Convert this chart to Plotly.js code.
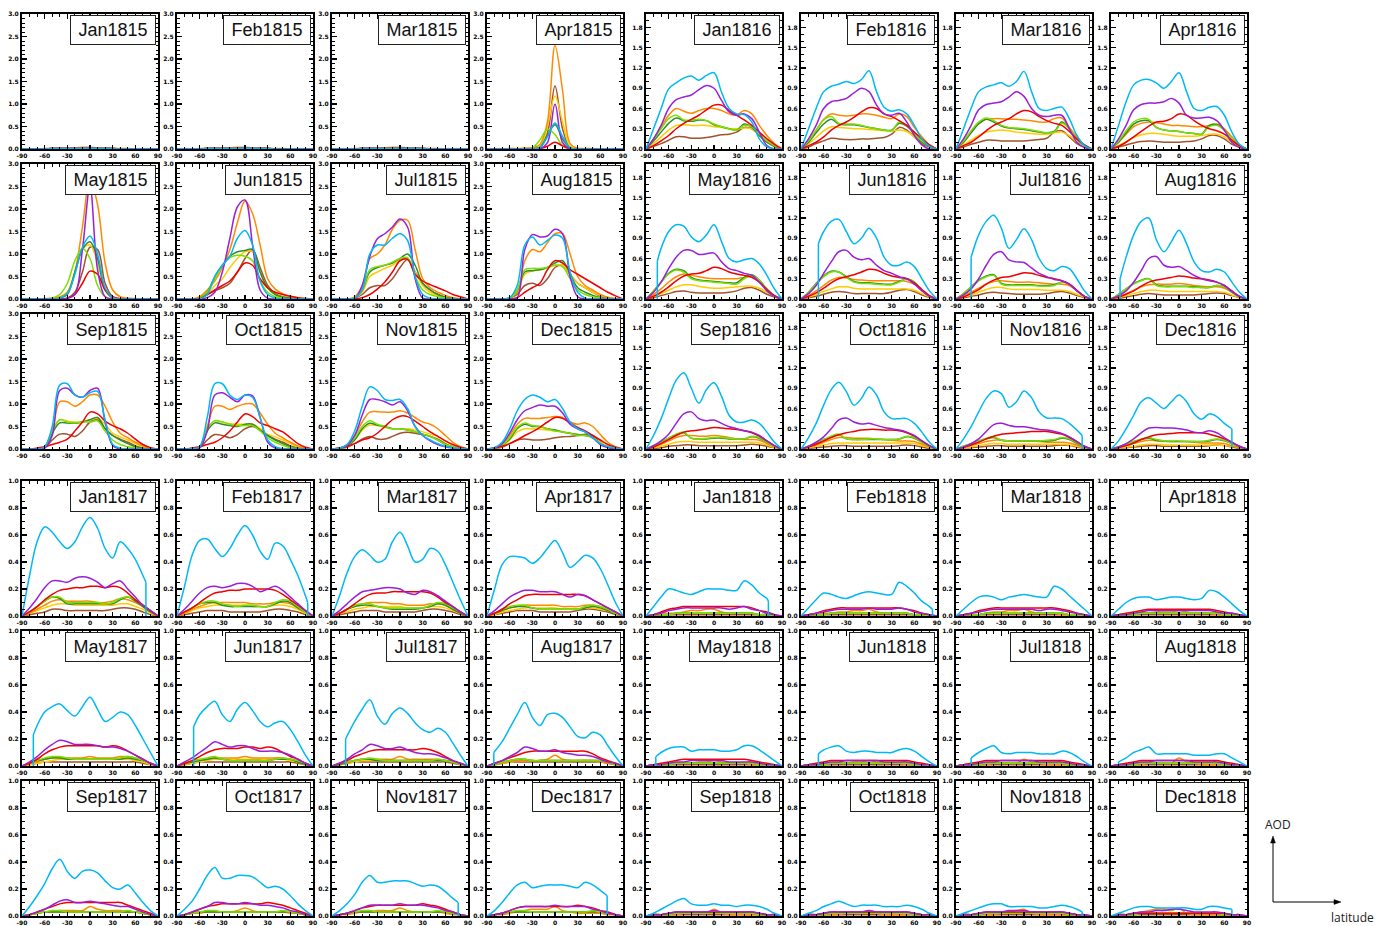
<!DOCTYPE html>
<html>
<head>
<meta charset="utf-8">
<script src="https://cdn.plot.ly/plotly-3.0.1.min.js"></script>
<style>html,body{margin:0;padding:0;background:#fff;}#chart{width:1377px;height:926px;}</style>
</head>
<body>
<div id="chart"></div>
<script>
// ---------- data ----------
const latitude = [-90,-80,-70,-60,-50,-40,-30,-20,-10,0,10,20,30,40,50,60,70,80,90];
const latTicks = [-90,-60,-30,0,30,60,90];
const months = ['Jan','Feb','Mar','Apr','May','Jun','Jul','Aug','Sep','Oct','Nov','Dec'];
const years = [1815,1816,1817,1818];
const yearTop = [3.0,2.0,1.0,1.0];
const yearStep = [0.5,0.3,0.2,0.2];

// faint rows shared by nearly-empty panels
const faintPre    = [0,0,0,0,.01,.01,.01,.01,.01,.02,.01,.01,.01,0,0,0,0,0,0];
const faintPreOrg = [0,0,0,.01,.02,.02,.03,.03,.04,.04,.03,.03,.02,.01,.01,0,0,0,0];
const faintLate   = [0,.01,.01,.01,.02,.02,.02,.02,.02,.02,.02,.02,.02,.02,.02,.01,.01,0,0];
const faintMid    = [0,.01,.02,.03,.03,.03,.03,.03,.03,.03,.03,.03,.03,.03,.03,.03,.02,.01,0];
const faintBrown  = [0,0,.01,.01,.01,.01,.01,.01,.01,.01,.01,.01,.01,.01,.01,.01,.01,0,0];

// AOD per panel (Jan1815 ... Dec1818), values at the latitude grid
const sky = [
faintPre,faintPre,faintPre,
[0,0,0,0,0,0,0,.03,.27,.58,.28,.03,0,0,0,0,0,0,0],
[0,0,0,0,0,.02,.12,.55,1.15,1.4,1.0,.25,.03,0,0,0,0,0,0],
[0,0,0,0,.1,.5,.75,.95,1.35,1.52,1.2,.4,.1,.02,0,0,0,0,0],
[0,0,0,.02,.2,1.0,1.2,1.2,1.35,1.45,1.3,.5,.1,.02,0,0,0,0,0],
[0,0,0,.03,.3,1.2,1.38,1.2,1.3,1.42,1.35,.6,.15,.02,0,0,0,0,0],
[0,0,0,.05,.5,1.42,1.45,1.2,1.15,1.25,1.28,.65,.1,.02,0,0,0,0,0],
[0,0,.01,.05,.7,1.45,1.45,1.2,1.1,1.2,1.15,.7,.2,.05,.01,0,0,0,0],
[0,.02,.1,.4,.95,1.38,1.3,1.1,1.08,1.1,.9,.5,.3,.2,.12,.06,.03,.01,0],
[0,.03,.15,.45,.85,1.1,1.2,1.15,1.05,1.1,.9,.6,.45,.38,.25,.12,.05,.02,0],
[0,.3,.6,.89,.98,1.05,1.08,1.02,1.09,1.13,.84,.6,.52,.51,.4,.15,.03,0,0],
[0,.3,.6,.85,.93,.96,1.0,.97,1.03,1.16,.85,.62,.56,.58,.52,.35,.15,.04,0],
[0,.3,.6,.85,.92,.95,.98,.93,1.0,1.15,.85,.6,.57,.6,.62,.45,.2,.05,0],
[0,.35,.7,.95,1.02,1.03,.98,.9,1.0,1.13,.85,.6,.57,.62,.63,.5,.25,.07,0],
[null,null,.75,1.0,1.1,1.08,.92,.85,.95,1.1,.85,.6,.55,.58,.6,.52,.35,.15,0],
[null,null,null,1.0,1.15,1.18,1.0,.82,.9,1.05,.9,.62,.5,.5,.55,.48,.3,.12,0],
[null,null,null,.95,1.15,1.24,1.05,.75,.88,1.04,.88,.6,.45,.42,.48,.45,.3,.12,0],
[null,null,.62,.95,1.15,1.2,.88,.7,.85,1.02,.82,.55,.42,.4,.44,.4,.25,.1,0],
[0,.2,.45,.75,1.02,1.13,.9,.68,.88,.98,.78,.5,.4,.4,.43,.38,.25,.1,0],
[0,.17,.38,.65,.88,.99,.85,.65,.75,.92,.8,.55,.45,.45,.45,.38,.25,.1,0],
[0,.15,.33,.55,.75,.86,.82,.62,.7,.86,.76,.55,.46,.46,.45,.38,.28,null,null],
[0,.12,.3,.5,.7,.76,.68,.6,.7,.8,.7,.52,.44,.52,.48,.38,null,null,null],
[0,.3,.55,.66,.62,.55,.5,.55,.66,.73,.65,.5,.43,.55,.5,.42,.3,null,null],
[0,.22,.45,.56,.57,.5,.44,.5,.6,.67,.6,.48,.42,.54,.52,.42,.3,.15,null],
[0,.15,.32,.44,.49,.45,.4,.42,.55,.62,.52,.4,.42,.5,.48,.38,.25,.12,0],
[0,.2,.38,.44,.44,.43,.39,.43,.5,.56,.47,.36,.4,.45,.43,.35,.23,.1,0],
[null,null,.3,.4,.44,.46,.41,.37,.44,.51,.42,.33,.36,.4,.38,.3,.2,.1,0],
[null,null,null,.38,.44,.48,.38,.33,.42,.47,.41,.33,.29,.32,.33,.27,.18,.08,0],
[null,null,null,.33,.42,.49,.37,.31,.39,.43,.39,.32,.27,.25,.28,.25,.17,.08,0],
[null,null,.18,.28,.38,.47,.36,.3,.38,.39,.36,.29,.22,.21,.25,.23,.15,.07,0],
[0,.07,.15,.24,.35,.42,.33,.28,.33,.34,.32,.26,.21,.2,.23,.17,.1,.04,0],
[0,.05,.11,.2,.3,.36,.28,.28,.3,.3,.29,.25,.21,.22,.2,.15,.09,.04,0],
[0,.04,.09,.16,.25,.3,.25,.25,.26,.26,.26,.24,.22,.23,.22,.18,.13,null,null],
[0,.04,.1,.17,.23,.25,.21,.22,.23,.23,.23,.22,.21,.25,.23,.19,null,null,null],
[0,.07,.14,.2,.19,.17,.16,.18,.2,.2,.2,.19,.19,.26,.23,.17,.13,null,null],
[0,.06,.12,.17,.16,.14,.13,.15,.17,.18,.17,.16,.16,.25,.22,.17,.11,.07,null],
[0,.05,.1,.14,.15,.14,.12,.14,.15,.16,.15,.14,.14,.22,.2,.15,.1,.05,0],
[0,.05,.1,.13,.14,.14,.12,.13,.14,.14,.13,.12,.13,.19,.18,.14,.09,.04,0],
[null,null,.1,.13,.14,.14,.11,.12,.12,.12,.11,.11,.12,.15,.15,.12,.08,.04,0],
[null,null,null,.12,.14,.15,.11,.1,.11,.11,.1,.1,.1,.12,.13,.11,.07,.03,0],
[null,null,null,.1,.13,.15,.1,.09,.1,.1,.1,.09,.09,.09,.11,.1,.07,.03,0],
[null,null,.06,.1,.12,.14,.09,.09,.09,.09,.09,.08,.08,.08,.09,.09,.06,.03,0],
[0,.02,.05,.08,.11,.13,.09,.08,.08,.09,.08,.08,.07,.08,.08,.07,.05,.02,0],
[0,.02,.04,.07,.09,.11,.09,.07,.08,.08,.08,.07,.07,.07,.08,.07,.05,.02,0],
[0,.02,.04,.06,.08,.09,.09,.07,.07,.07,.07,.06,.06,.07,.08,.07,.05,null,null],
[0,.02,.04,.06,.07,.07,.06,.06,.06,.06,.06,.05,.05,.07,.07,.06,null,null,null]
];
// polar-night edge of the sky-blue series: latitude and AOD where it stops
const skyEdgeLat = [null,null,null,null,null,null,null,null,null,null,null,null,
  null,null,null,null,-75,-67,-70,-78,null,null,77,70,
  74,83,null,null,-75,-68,-72,-81,null,null,77,69,
  72,84,null,null,-77,-67,-70,-80,null,null,77,70];
const skyEdgeAOD = [null,null,null,null,null,null,null,null,null,null,null,null,
  null,null,null,null,.56,.82,.62,.3,null,null,.2,.3,
  .25,.1,null,null,.23,.29,.2,.1,null,null,.1,.15,
  .11,.05,null,null,.07,.09,.06,.03,null,null,.03,.05];

const violet = [
faintPre,faintPre,faintPre,
[0,0,0,0,0,0,0,0,.14,1.0,.14,0,0,0,0,0,0,0,0],
[0,0,0,0,0,0,.01,.1,1.1,2.5,.65,.05,0,0,0,0,0,0,0],
[0,0,0,0,.03,.15,.6,1.35,2.05,2.2,1.2,.2,.02,0,0,0,0,0,0],
[0,0,0,0,.3,.94,1.34,1.45,1.6,1.78,1.6,.45,.02,0,0,0,0,0,0],
[0,0,0,0,.03,1.1,1.43,1.38,1.4,1.55,1.45,.5,.05,0,0,0,0,0,0],
[0,0,0,.02,.3,1.3,1.35,1.2,1.15,1.3,1.35,.6,.08,0,0,0,0,0,0],
[0,0,0,.03,.4,1.2,1.25,1.15,1.05,1.2,1.18,.7,.15,.02,0,0,0,0,0],
[0,.02,.08,.3,.75,1.1,1.1,1.05,.98,1.05,.85,.5,.3,.18,.1,.05,.02,0,0],
[0,.03,.12,.35,.65,.85,.92,.98,.95,.95,.8,.55,.45,.38,.25,.1,.03,0,0],
[0,.15,.35,.6,.73,.77,.8,.88,.94,.9,.72,.55,.5,.52,.45,.25,.05,0,0],
[0,.15,.35,.6,.7,.72,.75,.83,.9,.85,.65,.52,.5,.53,.4,.2,.06,0,0],
[0,.15,.35,.58,.66,.68,.7,.77,.85,.78,.6,.5,.48,.5,.5,.3,.1,.02,0],
[0,.15,.35,.58,.66,.68,.68,.7,.75,.68,.5,.46,.46,.47,.42,.28,.1,.02,0],
[0,.1,.25,.45,.62,.72,.72,.66,.67,.68,.55,.45,.42,.38,.35,.25,.12,.04,0],
[0,.08,.2,.38,.55,.7,.72,.62,.58,.6,.5,.42,.38,.33,.3,.22,.12,.04,0],
[0,.06,.15,.3,.5,.66,.7,.58,.55,.54,.46,.38,.33,.29,.27,.22,.12,.04,0],
[0,.05,.12,.25,.42,.6,.63,.5,.47,.48,.42,.35,.3,.27,.25,.2,.11,.04,0],
[0,.05,.12,.22,.38,.52,.55,.45,.42,.43,.38,.33,.3,.27,.25,.2,.12,.05,0],
[0,.04,.1,.18,.3,.43,.46,.4,.37,.38,.35,.32,.3,.28,.25,.2,.12,.05,0],
[0,.03,.08,.15,.26,.36,.38,.35,.33,.33,.31,.29,.28,.26,.23,.18,.11,.04,0],
[0,.03,.08,.15,.24,.31,.32,.31,.31,.3,.28,.25,.24,.27,.24,.17,.1,.04,0],
[0,.06,.13,.21,.26,.26,.25,.28,.29,.28,.25,.21,.24,.26,.2,.14,.08,.04,0],
[0,.05,.11,.17,.21,.22,.21,.22,.24,.24,.22,.18,.2,.22,.19,.14,.09,.04,0],
[0,.04,.09,.14,.18,.19,.2,.21,.21,.2,.17,.16,.19,.18,.15,.11,.07,.03,0],
[0,.04,.09,.14,.17,.19,.19,.18,.18,.18,.16,.14,.16,.15,.12,.09,.06,.03,0],
[0,.03,.07,.12,.16,.19,.18,.16,.16,.16,.15,.14,.14,.13,.11,.08,.05,.02,0],
[0,.03,.06,.1,.14,.18,.16,.14,.15,.15,.13,.11,.11,.11,.1,.08,.05,.02,0],
[0,.02,.05,.09,.12,.16,.15,.13,.13,.14,.12,.1,.09,.09,.08,.06,.04,.02,0],
[0,.02,.04,.07,.1,.14,.13,.11,.11,.12,.1,.09,.08,.08,.07,.05,.03,.02,0],
[0,.01,.03,.05,.08,.11,.12,.1,.1,.11,.1,.09,.08,.07,.07,.05,.03,.01,0],
[0,.01,.03,.05,.07,.1,.1,.09,.09,.1,.09,.08,.08,.07,.06,.04,.03,.01,0],
[0,.01,.02,.04,.06,.08,.08,.08,.08,.09,.08,.08,.08,.07,.06,.04,.03,.01,0],
[0,.01,.02,.04,.06,.07,.07,.07,.07,.08,.07,.07,.07,.07,.05,.04,.02,.01,0],
[0,.01,.02,.04,.05,.06,.06,.06,.06,.06,.06,.05,.06,.07,.05,.04,.02,.01,0],
[0,.01,.02,.03,.04,.05,.05,.05,.05,.06,.05,.05,.05,.06,.05,.03,.02,.01,0],
[0,.01,.02,.03,.04,.05,.05,.05,.05,.05,.05,.04,.05,.05,.04,.03,.02,.01,0],
[0,.01,.01,.02,.03,.04,.04,.04,.04,.04,.04,.04,.04,.04,.03,.02,.02,.01,0],
[0,.01,.01,.02,.03,.03,.04,.04,.04,.04,.04,.03,.03,.03,.03,.02,.01,.01,0],
[0,.01,.01,.02,.03,.03,.04,.04,.04,.04,.04,.03,.03,.03,.03,.02,.01,.01,0],
[0,.01,.01,.02,.03,.03,.04,.04,.04,.04,.04,.03,.03,.03,.03,.02,.01,.01,0],
[0,.01,.01,.02,.03,.03,.04,.04,.04,.04,.04,.03,.03,.03,.03,.02,.01,.01,0],
[0,.01,.01,.02,.03,.03,.03,.03,.03,.04,.03,.03,.03,.03,.03,.02,.01,.01,0],
[0,.01,.01,.02,.03,.03,.03,.03,.03,.04,.03,.03,.03,.03,.03,.02,.01,.01,0],
[0,.01,.01,.02,.03,.03,.03,.04,.04,.04,.03,.03,.03,.03,.03,.02,.01,.01,0],
[0,.01,.01,.02,.03,.03,.04,.04,.05,.05,.04,.03,.03,.03,.03,.02,.01,.01,0]
];

const red = [
faintPre,faintPre,faintPre,
[0,0,0,0,0,0,0,.01,.06,.15,.07,.01,0,0,0,0,0,0,0],
[0,0,0,0,0,0,.02,.1,.35,.62,.55,.2,.05,.01,0,0,0,0,0],
[0,0,0,0,.1,.2,.3,.4,.6,.8,.75,.45,.25,.15,.1,.06,.03,.01,0],
[0,0,0,0,.03,.1,.22,.38,.6,.85,.88,.55,.4,.32,.25,.18,.1,.05,0],
[0,0,0,0,.03,.15,.25,.35,.65,.85,.8,.65,.55,.45,.35,.25,.15,.07,0],
[0,0,.02,.05,.1,.15,.22,.4,.6,.82,.78,.62,.52,.45,.35,.22,.1,.03,0],
[0,0,.02,.05,.1,.15,.25,.4,.6,.78,.72,.58,.52,.45,.38,.25,.12,.04,0],
[0,.02,.06,.12,.2,.25,.35,.5,.65,.73,.72,.62,.5,.38,.28,.18,.1,.04,0],
[0,.02,.06,.12,.2,.3,.38,.48,.6,.7,.68,.58,.48,.4,.3,.2,.1,.04,0],
[0,.05,.12,.2,.3,.38,.44,.5,.58,.65,.65,.57,.5,.43,.35,.25,.15,.07,0],
[0,.05,.1,.18,.28,.35,.4,.47,.55,.61,.6,.52,.48,.42,.35,.25,.15,.06,0],
[0,.05,.1,.18,.27,.35,.4,.45,.52,.57,.55,.48,.42,.38,.35,.26,.15,.06,0],
[0,.04,.1,.18,.26,.34,.4,.41,.45,.52,.5,.42,.35,.3,.27,.22,.13,.05,0],
[0,.04,.1,.18,.27,.34,.37,.38,.42,.47,.45,.4,.37,.35,.32,.25,.14,.05,0],
[0,.04,.09,.16,.24,.3,.33,.36,.4,.44,.43,.38,.34,.32,.3,.24,.14,.05,0],
[0,.03,.08,.14,.22,.28,.32,.33,.36,.39,.38,.35,.32,.3,.27,.22,.13,.04,0],
[0,.03,.07,.12,.19,.25,.28,.3,.32,.34,.33,.31,.3,.28,.25,.2,.12,.04,0],
[0,.03,.08,.14,.2,.25,.27,.28,.3,.32,.31,.3,.29,.27,.24,.19,.12,.05,0],
[0,.03,.07,.12,.17,.21,.24,.26,.28,.29,.29,.28,.28,.27,.24,.19,.12,.05,0],
[0,.02,.06,.1,.15,.19,.22,.23,.24,.25,.26,.26,.26,.24,.22,.17,.11,.04,0],
[0,.02,.05,.09,.14,.18,.21,.22,.23,.24,.24,.24,.24,.22,.19,.15,.1,.04,0],
[0,.03,.07,.12,.16,.19,.2,.21,.21,.22,.22,.21,.22,.21,.17,.12,.08,.04,0],
[0,.03,.06,.1,.14,.17,.18,.19,.19,.2,.2,.2,.2,.19,.16,.12,.08,.04,0],
[0,.02,.05,.09,.13,.16,.17,.17,.18,.18,.18,.18,.18,.17,.14,.1,.07,.03,0],
[0,.02,.05,.09,.12,.15,.16,.16,.16,.16,.16,.16,.16,.15,.12,.09,.06,.03,0],
[0,.02,.05,.09,.12,.14,.15,.15,.15,.15,.15,.14,.15,.14,.11,.08,.05,.02,0],
[0,.02,.04,.07,.1,.12,.13,.13,.13,.14,.14,.13,.14,.13,.1,.07,.05,.02,0],
[0,.02,.04,.07,.09,.11,.12,.12,.12,.12,.12,.12,.13,.12,.1,.07,.04,.02,0],
[0,.02,.04,.06,.08,.1,.11,.11,.11,.11,.11,.11,.11,.11,.09,.06,.04,.02,0],
[0,.01,.03,.05,.07,.09,.1,.1,.1,.1,.1,.1,.1,.1,.08,.06,.04,.02,0],
[0,.01,.03,.05,.07,.08,.09,.09,.09,.09,.09,.09,.1,.09,.08,.06,.04,.02,0],
[0,.01,.02,.04,.06,.07,.08,.08,.08,.08,.08,.08,.09,.08,.07,.05,.03,.01,0],
[0,.01,.02,.04,.06,.07,.07,.07,.07,.07,.07,.07,.08,.07,.06,.04,.03,.01,0],
[0,.01,.03,.05,.06,.07,.07,.07,.07,.07,.07,.07,.07,.07,.06,.04,.03,.01,0],
[0,.01,.02,.04,.05,.06,.06,.06,.06,.06,.06,.06,.06,.06,.05,.04,.02,.01,0],
[0,.01,.02,.04,.05,.06,.06,.06,.06,.06,.06,.06,.06,.06,.05,.04,.02,.01,0],
[0,.01,.02,.03,.04,.05,.05,.05,.05,.05,.05,.05,.05,.05,.04,.03,.02,.01,0],
[0,.01,.02,.03,.04,.05,.05,.05,.05,.05,.05,.05,.05,.05,.04,.03,.02,.01,0],
[0,.01,.02,.03,.04,.04,.04,.04,.04,.04,.04,.04,.04,.04,.04,.03,.02,.01,0],
[0,.01,.02,.03,.04,.04,.04,.04,.04,.04,.04,.04,.04,.04,.04,.03,.02,.01,0],
[0,.01,.02,.03,.04,.04,.04,.04,.04,.04,.04,.04,.04,.04,.04,.03,.02,.01,0],
[0,.01,.01,.02,.03,.03,.03,.03,.03,.03,.03,.03,.03,.03,.03,.02,.01,.01,0],
[0,.01,.01,.02,.03,.03,.03,.03,.03,.03,.03,.03,.03,.03,.03,.02,.01,.01,0],
[0,.01,.01,.02,.03,.03,.03,.03,.03,.03,.03,.03,.03,.03,.03,.02,.01,.01,0],
[0,.01,.01,.02,.02,.02,.02,.02,.02,.02,.02,.02,.02,.02,.02,.02,.01,.01,0]
];

const orange = [
faintPreOrg,faintPreOrg,faintPreOrg,
[0,0,0,.01,.01,.02,.03,.1,.6,2.3,1.3,.12,.02,.01,.01,0,0,0,0],
[0,0,0,.01,.02,.05,.15,.6,1.6,2.65,2.1,.8,.2,.05,.02,.01,0,0,0],
[0,0,0,.05,.2,.4,.7,1.1,1.7,2.18,1.9,1.2,.45,.22,.12,.06,.03,.01,0],
[0,0,0,.05,.3,.9,1.0,1.2,1.55,1.75,1.75,1.1,.45,.25,.15,.08,.03,.01,0],
[0,0,0,.03,.15,.85,1.1,1.05,1.25,1.45,1.45,1.0,.5,.3,.2,.1,.04,.01,0],
[0,0,0,.05,.4,1.05,1.05,.95,1.05,1.2,1.2,.95,.6,.35,.25,.15,.07,.02,0],
[0,0,.01,.05,.5,.95,.95,.88,.95,1.0,1.0,.8,.55,.35,.25,.15,.07,.02,0],
[0,.02,.1,.3,.6,.82,.83,.82,.82,.85,.8,.7,.6,.55,.45,.3,.15,.05,0],
[0,.03,.1,.3,.55,.68,.68,.68,.7,.72,.7,.6,.55,.58,.5,.32,.15,.05,0],
[0,.15,.32,.5,.6,.56,.53,.57,.6,.6,.57,.52,.5,.57,.52,.35,.2,.08,0],
[0,.12,.28,.44,.52,.5,.49,.5,.52,.52,.5,.47,.45,.52,.48,.32,.18,.06,0],
[0,.1,.25,.38,.44,.45,.45,.44,.44,.43,.42,.4,.4,.45,.46,.32,.18,.06,0],
[0,.1,.22,.33,.38,.4,.39,.37,.35,.35,.34,.33,.33,.35,.37,.3,.18,.06,0],
[0,.07,.15,.25,.33,.37,.35,.33,.31,.3,.3,.3,.3,.32,.33,.27,.15,.05,0],
[0,.05,.12,.2,.28,.32,.31,.29,.28,.27,.27,.27,.27,.27,.26,.22,.13,.05,0],
[0,.04,.1,.16,.22,.26,.27,.26,.25,.25,.25,.24,.23,.22,.22,.2,.12,.04,0],
[0,.03,.08,.13,.18,.21,.22,.22,.22,.23,.22,.2,.19,.18,.18,.16,.1,.03,0],
[0,.03,.07,.12,.17,.2,.2,.19,.19,.2,.19,.17,.15,.14,.14,.13,.08,.03,0],
[0,.03,.06,.1,.14,.17,.17,.16,.16,.16,.15,.14,.13,.12,.12,.11,.07,.03,0],
[0,.02,.05,.08,.11,.13,.13,.12,.12,.12,.12,.11,.1,.1,.1,.09,.06,.02,0],
[0,.02,.05,.08,.11,.13,.12,.11,.11,.11,.11,.1,.09,.09,.09,.08,.05,.02,0],
[0,.02,.05,.08,.11,.12,.11,.11,.11,.11,.1,.1,.11,.13,.12,.1,.07,.03,0],
[0,.02,.05,.07,.09,.1,.1,.1,.1,.1,.09,.09,.09,.1,.1,.09,.06,.03,0],
[0,.02,.05,.07,.09,.1,.1,.1,.09,.09,.08,.08,.08,.09,.09,.08,.05,.02,0],
[0,.02,.04,.06,.07,.08,.08,.08,.08,.08,.07,.07,.07,.08,.08,.07,.05,.02,0],
[0,.02,.03,.05,.06,.06,.06,.06,.06,.07,.06,.06,.06,.07,.07,.06,.04,.02,0],
[0,.01,.03,.04,.05,.06,.06,.06,.06,.07,.06,.06,.06,.06,.06,.05,.04,.02,0],
[0,.01,.02,.04,.05,.05,.05,.05,.05,.07,.05,.05,.05,.05,.05,.04,.03,.01,0],
[0,.01,.02,.03,.04,.04,.04,.04,.05,.08,.05,.04,.04,.04,.04,.03,.02,.01,0],
[0,.01,.02,.03,.03,.04,.04,.04,.04,.07,.05,.04,.04,.04,.03,.03,.02,.01,0],
[0,.01,.02,.02,.03,.03,.03,.03,.04,.06,.04,.03,.03,.03,.03,.02,.02,.01,0],
[0,.01,.01,.02,.03,.03,.04,.04,.04,.06,.04,.03,.03,.03,.03,.02,.01,.01,0],
[0,.01,.01,.02,.03,.04,.05,.05,.05,.07,.04,.03,.02,.02,.02,.02,.01,.01,0],
[0,.01,.01,.02,.02,.03,.04,.04,.05,.05,.03,.02,.02,.02,.02,.01,.01,0,0],
[0,.01,.01,.02,.02,.03,.03,.04,.04,.05,.03,.02,.02,.02,.02,.01,.01,0,0],
[0,.01,.01,.01,.02,.03,.03,.04,.04,.05,.03,.02,.02,.02,.01,.01,.01,0,0],
[0,.01,.01,.01,.02,.02,.03,.03,.03,.04,.03,.02,.02,.02,.01,.01,.01,0,0],
[0,0,.01,.01,.02,.02,.02,.03,.03,.04,.03,.02,.02,.02,.01,.01,.01,0,0],
[0,0,.01,.01,.02,.02,.02,.03,.03,.04,.03,.02,.02,.02,.01,.01,.01,0,0],
[0,0,.01,.01,.01,.02,.02,.02,.02,.05,.03,.02,.01,.01,.01,.01,0,0,0],
[0,0,.01,.01,.01,.02,.02,.02,.02,.06,.03,.02,.01,.01,.01,.01,0,0,0],
[0,0,.01,.01,.01,.02,.02,.02,.02,.05,.02,.01,.01,.01,.01,.01,0,0,0],
[0,0,.01,.01,.01,.01,.02,.02,.02,.04,.02,.01,.01,.01,.01,.01,0,0,0],
[0,0,0,.01,.01,.01,.02,.03,.04,.05,.02,.01,.01,.01,.01,0,0,0,0],
[0,0,.01,.02,.03,.04,.05,.05,.04,.06,.02,.01,.01,.01,.01,0,0,0,0]
];

const gold = [
faintPre,faintPre,faintPre,
[0,0,0,0,0,0,.01,.05,.5,1.18,.6,.06,.01,0,0,0,0,0,0],
[0,0,0,0,0,.02,.15,.6,1.1,1.2,.8,.2,.03,0,0,0,0,0,0],
[0,0,0,.02,.1,.3,.45,.7,.9,1.05,1.05,.6,.25,.1,.04,.02,0,0,0],
[0,0,0,.02,.15,.5,.6,.68,.75,.85,.9,.6,.3,.15,.08,.04,.02,0,0],
[0,0,0,.02,.15,.55,.62,.65,.7,.75,.75,.55,.35,.25,.15,.08,.03,.01,0],
[0,0,0,.05,.4,.65,.62,.6,.6,.65,.68,.55,.35,.27,.2,.12,.05,.01,0],
[0,0,.01,.05,.45,.62,.6,.56,.55,.55,.55,.45,.33,.27,.2,.12,.05,.01,0],
[0,.01,.06,.2,.42,.53,.52,.48,.45,.45,.45,.42,.38,.33,.28,.18,.08,.02,0],
[0,.01,.06,.2,.38,.45,.45,.44,.42,.4,.38,.35,.32,.3,.25,.15,.06,.02,0],
[0,.08,.18,.28,.35,.36,.35,.35,.35,.33,.32,.3,.3,.31,.3,.2,.1,.04,0],
[0,.08,.17,.27,.33,.32,.31,.3,.3,.29,.28,.27,.27,.28,.26,.18,.1,.04,0],
[0,.06,.13,.2,.25,.27,.28,.27,.25,.24,.23,.22,.22,.24,.25,.2,.1,.04,0],
[0,.05,.11,.17,.21,.23,.23,.22,.2,.19,.19,.19,.2,.22,.22,.18,.1,.04,0],
[0,.04,.08,.13,.18,.21,.21,.19,.17,.16,.16,.17,.18,.19,.19,.16,.1,.04,0],
[0,.03,.07,.11,.15,.18,.18,.16,.15,.15,.15,.15,.15,.15,.15,.13,.08,.03,0],
[0,.03,.06,.1,.14,.17,.17,.15,.14,.14,.14,.14,.13,.13,.13,.11,.07,.03,0],
[0,.02,.05,.08,.11,.13,.13,.12,.11,.11,.11,.11,.11,.11,.11,.1,.06,.02,0],
[0,.02,.04,.07,.1,.11,.11,.1,.1,.1,.1,.1,.1,.1,.1,.09,.06,.02,0],
[0,.02,.04,.06,.08,.09,.09,.09,.09,.09,.09,.09,.09,.09,.09,.08,.05,.02,0],
[0,.01,.03,.05,.07,.08,.08,.07,.07,.07,.07,.07,.07,.07,.07,.06,.04,.02,0],
[0,.01,.03,.04,.06,.07,.07,.06,.06,.06,.06,.06,.06,.06,.06,.05,.04,.02,0],
[0,.02,.04,.06,.08,.09,.09,.08,.08,.08,.08,.08,.08,.09,.09,.07,.05,.02,0],
[0,.02,.04,.06,.07,.08,.08,.08,.08,.08,.07,.07,.07,.08,.08,.07,.05,.02,0],
[0,.02,.03,.05,.06,.07,.07,.07,.07,.07,.06,.06,.06,.07,.07,.06,.04,.02,0],
[0,.01,.03,.04,.05,.06,.06,.06,.06,.06,.05,.05,.05,.06,.06,.05,.04,.02,0],
[0,.01,.02,.03,.04,.05,.05,.05,.05,.05,.05,.05,.05,.05,.05,.04,.03,.01,0],
[0,.01,.02,.03,.04,.05,.05,.05,.05,.05,.05,.05,.05,.05,.05,.04,.03,.01,0],
[0,.01,.02,.03,.04,.04,.04,.04,.04,.04,.04,.04,.04,.04,.04,.04,.03,.01,0],
[0,.01,.02,.03,.04,.04,.04,.04,.04,.04,.04,.04,.04,.04,.04,.04,.03,.01,0],
faintMid,faintMid,faintMid,faintMid,
faintLate,faintLate,faintLate,faintLate,faintLate,faintLate,faintLate,faintLate,faintLate,faintLate,faintLate,faintLate
];

const lime = [
faintPre,faintPre,faintPre,
[0,0,0,0,0,0,.03,.2,.44,.32,.07,0,0,0,0,0,0,0,0],
[0,0,0,0,.02,.1,.35,.85,1.12,.9,.3,.05,0,0,0,0,0,0,0],
[0,0,0,.02,.15,.45,.75,.92,.97,.95,.85,.4,.15,.05,.02,0,0,0,0],
[0,0,0,.02,.2,.65,.72,.75,.82,.9,.92,.5,.2,.1,.05,.02,0,0,0],
[0,0,0,.02,.2,.65,.68,.68,.7,.75,.72,.45,.2,.1,.05,.02,0,0,0],
[0,0,0,.05,.4,.65,.6,.58,.6,.6,.62,.4,.2,.1,.05,.02,0,0,0],
[0,0,.01,.05,.45,.63,.6,.55,.52,.52,.52,.4,.25,.15,.08,.03,.01,0,0],
[0,.01,.08,.25,.5,.63,.55,.5,.45,.45,.42,.38,.33,.28,.2,.1,.05,.01,0],
[0,.01,.08,.25,.48,.58,.52,.5,.45,.4,.38,.35,.3,.3,.25,.12,.04,.01,0],
[0,.15,.3,.45,.5,.43,.43,.44,.42,.37,.33,.3,.28,.35,.33,.22,.12,.05,0],
[0,.12,.28,.43,.48,.38,.37,.37,.35,.32,.3,.28,.27,.4,.35,.22,.12,.05,0],
[0,.12,.27,.4,.46,.42,.35,.32,.31,.3,.28,.26,.24,.25,.38,.3,.15,.05,0],
[0,.12,.27,.4,.45,.44,.32,.28,.27,.26,.24,.23,.22,.33,.35,.28,.15,.05,0],
[0,.12,.25,.37,.43,.4,.3,.27,.26,.25,.24,.23,.22,.3,.35,.28,.15,.05,0],
[0,.1,.22,.33,.4,.4,.32,.25,.23,.23,.22,.21,.21,.25,.3,.25,.13,.04,0],
[0,.08,.18,.27,.33,.35,.22,.2,.2,.2,.2,.19,.19,.2,.25,.22,.12,.04,0],
[0,.07,.15,.22,.27,.3,.2,.18,.18,.18,.18,.17,.17,.17,.2,.18,.1,.03,0],
[0,.05,.1,.16,.22,.25,.16,.15,.16,.17,.17,.16,.15,.15,.19,.17,.1,.04,0],
[0,.04,.09,.14,.19,.22,.15,.14,.14,.15,.15,.14,.14,.15,.19,.17,.1,.04,0],
[0,.04,.08,.12,.16,.18,.13,.12,.12,.12,.12,.12,.13,.14,.17,.15,.09,.03,0],
[0,.03,.07,.11,.15,.17,.14,.12,.12,.12,.11,.11,.11,.13,.15,.13,.08,.03,0],
[0,.03,.07,.11,.14,.14,.1,.1,.1,.1,.1,.09,.1,.13,.14,.12,.08,.04,0],
[0,.03,.06,.09,.11,.11,.09,.08,.07,.08,.08,.07,.07,.1,.12,.11,.07,.03,0],
[0,.02,.05,.08,.09,.09,.07,.06,.06,.06,.06,.06,.06,.08,.1,.09,.06,.03,0],
[0,.02,.05,.07,.08,.08,.06,.05,.05,.05,.05,.05,.05,.07,.08,.07,.05,.02,0],
[0,.02,.04,.06,.07,.07,.06,.05,.05,.05,.05,.05,.05,.06,.07,.06,.04,.02,0],
[0,.02,.04,.05,.06,.07,.05,.04,.04,.04,.04,.04,.04,.05,.06,.05,.04,.02,0],
[0,.02,.03,.04,.05,.06,.05,.04,.04,.04,.04,.04,.04,.04,.05,.04,.03,.01,0],
[0,.01,.03,.04,.05,.05,.04,.04,.04,.04,.04,.04,.04,.04,.04,.04,.03,.01,0],
[0,.01,.02,.03,.04,.04,.03,.03,.03,.03,.03,.03,.03,.03,.04,.03,.02,.01,0],
[0,.01,.02,.03,.04,.04,.03,.03,.03,.03,.03,.03,.03,.03,.04,.03,.02,.01,0],
[0,.01,.02,.03,.04,.04,.03,.03,.03,.03,.03,.03,.03,.03,.04,.03,.02,.01,0],
[0,.01,.02,.03,.04,.04,.03,.03,.03,.03,.03,.03,.03,.03,.04,.03,.02,.01,0],
faintLate,faintLate,faintLate,faintLate,faintLate,faintLate,faintLate,faintLate,faintLate,faintLate,faintLate,faintLate
];

const forest = [
faintPre,faintPre,faintPre,
[0,0,0,0,0,0,.01,.04,.3,.54,.22,.02,0,0,0,0,0,0,0],
[0,0,0,0,0,.02,.1,.6,1.1,1.27,.9,.2,.02,0,0,0,0,0,0],
[0,0,0,.02,.15,.5,.75,.95,1.05,1.08,1.1,.6,.25,.1,.04,.02,0,0,0],
[0,0,0,.02,.2,.6,.7,.75,.8,.9,1.0,.75,.35,.2,.1,.04,.01,0,0],
[0,0,0,.02,.2,.6,.63,.65,.7,.8,.85,.55,.25,.15,.08,.03,.01,0,0],
[0,0,0,.03,.35,.58,.58,.57,.6,.65,.7,.45,.3,.2,.12,.05,.02,0,0],
[0,0,.01,.03,.4,.58,.55,.52,.5,.55,.55,.42,.3,.2,.12,.05,.02,0,0],
[0,.01,.06,.2,.45,.57,.53,.5,.45,.45,.42,.38,.33,.28,.2,.1,.04,.01,0],
[0,.01,.08,.22,.45,.55,.5,.5,.45,.42,.38,.35,.32,.3,.25,.12,.04,.01,0],
[0,.12,.25,.38,.46,.42,.41,.43,.42,.36,.33,.3,.28,.37,.32,.2,.1,.04,0],
[0,.1,.24,.37,.44,.37,.36,.36,.34,.32,.3,.28,.28,.38,.34,.22,.1,.04,0],
[0,.1,.24,.37,.44,.4,.34,.31,.3,.29,.27,.25,.24,.26,.4,.3,.14,.05,0],
[0,.1,.24,.37,.42,.42,.32,.28,.27,.26,.24,.23,.22,.35,.36,.28,.14,.05,0],
[0,.12,.25,.38,.44,.42,.32,.28,.27,.26,.25,.24,.24,.32,.36,.28,.14,.05,0],
[0,.1,.23,.34,.41,.4,.33,.26,.24,.24,.23,.22,.22,.26,.3,.25,.13,.04,0],
[0,.08,.18,.28,.34,.36,.23,.21,.21,.21,.21,.2,.2,.21,.25,.22,.12,.04,0],
[0,.07,.15,.23,.28,.3,.21,.19,.19,.19,.19,.18,.17,.17,.2,.18,.1,.03,0],
[0,.05,.1,.16,.21,.24,.16,.15,.15,.16,.16,.15,.15,.15,.18,.16,.1,.04,0],
[0,.04,.09,.14,.18,.21,.15,.14,.14,.14,.14,.14,.14,.15,.18,.16,.1,.04,0],
[0,.04,.08,.12,.15,.17,.13,.12,.12,.12,.12,.12,.12,.13,.16,.14,.08,.03,0],
[0,.03,.07,.11,.14,.16,.13,.12,.11,.11,.11,.11,.11,.12,.14,.12,.08,.03,0],
[0,.03,.07,.11,.14,.13,.09,.09,.09,.09,.09,.09,.09,.12,.14,.11,.07,.03,0],
[0,.03,.06,.09,.1,.1,.08,.07,.07,.07,.07,.07,.07,.09,.11,.1,.06,.03,0],
[0,.02,.05,.07,.08,.08,.07,.06,.05,.05,.05,.05,.06,.07,.09,.08,.05,.02,0],
[0,.02,.04,.06,.07,.07,.06,.05,.05,.05,.05,.05,.05,.06,.07,.06,.04,.02,0],
[0,.02,.04,.05,.06,.06,.05,.05,.05,.05,.05,.05,.05,.05,.06,.05,.04,.02,0],
[0,.02,.03,.04,.05,.06,.05,.04,.04,.04,.04,.04,.04,.05,.05,.05,.03,.01,0],
[0,.01,.03,.04,.05,.05,.04,.04,.04,.04,.04,.04,.04,.04,.04,.04,.03,.01,0],
[0,.01,.03,.04,.05,.05,.04,.04,.04,.04,.04,.04,.04,.04,.04,.04,.03,.01,0],
faintMid,faintMid,faintMid,faintMid,
faintLate,faintLate,faintLate,faintLate,faintLate,faintLate,faintLate,faintLate,faintLate,faintLate,faintLate,faintLate
];

const sienna = [
faintPre,faintPre,faintPre,
[0,0,0,0,0,0,0,.02,.35,1.4,.45,.03,0,0,0,0,0,0,0],
[0,0,0,0,0,0,.02,.15,.6,1.15,1.1,.35,.05,0,0,0,0,0,0],
[0,0,0,.02,.1,.18,.25,.35,.6,.9,1.1,.7,.3,.12,.05,.02,0,0,0],
[0,0,0,.02,.1,.25,.3,.3,.45,.7,.88,.6,.35,.2,.1,.04,.01,0,0],
[0,0,0,.02,.1,.3,.35,.3,.45,.7,.75,.55,.35,.25,.15,.06,.02,0,0],
[0,0,0,.03,.2,.33,.33,.28,.4,.6,.65,.45,.3,.22,.15,.07,.02,0,0],
[0,0,.01,.03,.2,.32,.3,.25,.32,.45,.5,.42,.3,.22,.15,.07,.02,0,0],
[0,.01,.04,.12,.22,.28,.22,.22,.28,.35,.37,.35,.32,.28,.22,.12,.05,.01,0],
[0,.01,.04,.12,.2,.22,.2,.2,.22,.25,.27,.28,.3,.33,.3,.15,.05,.01,0],
[0,.04,.08,.13,.18,.18,.16,.16,.17,.19,.21,.22,.25,.32,.3,.2,.1,.04,0],
[0,.03,.08,.12,.16,.15,.14,.14,.15,.15,.16,.17,.22,.32,.28,.18,.08,.03,0],
[0,.03,.07,.1,.13,.13,.12,.12,.12,.12,.13,.14,.16,.25,.27,.18,.08,.03,0],
[0,.03,.06,.09,.11,.12,.11,.1,.1,.1,.11,.12,.15,.2,.2,.15,.07,.03,0],
[0,.02,.05,.08,.11,.12,.1,.09,.09,.09,.09,.1,.12,.16,.17,.13,.07,.03,0],
[0,.02,.04,.07,.1,.11,.1,.08,.08,.08,.08,.08,.1,.13,.14,.11,.06,.02,0],
[0,.02,.04,.06,.09,.1,.09,.08,.07,.07,.07,.07,.08,.1,.11,.09,.05,.02,0],
[0,.01,.03,.05,.07,.08,.07,.06,.06,.06,.06,.06,.07,.08,.09,.08,.05,.02,0],
[0,.01,.02,.04,.05,.06,.06,.05,.05,.05,.05,.05,.05,.06,.07,.06,.04,.02,0],
[0,.01,.02,.03,.04,.05,.05,.04,.04,.04,.04,.04,.04,.05,.06,.05,.03,.01,0],
[0,.01,.02,.03,.04,.05,.05,.04,.04,.04,.04,.04,.04,.05,.06,.05,.03,.01,0],
[0,.01,.02,.03,.04,.05,.05,.04,.04,.04,.04,.04,.04,.05,.06,.05,.03,.01,0],
[0,.01,.02,.03,.05,.05,.04,.04,.04,.04,.04,.04,.05,.06,.06,.05,.03,.01,0],
[0,.01,.02,.03,.04,.04,.04,.03,.03,.03,.03,.03,.04,.05,.05,.04,.03,.01,0],
[0,.01,.02,.03,.04,.04,.04,.03,.03,.03,.03,.03,.04,.05,.05,.04,.03,.01,0],
[0,.01,.02,.03,.04,.04,.04,.03,.03,.03,.03,.03,.04,.05,.05,.04,.03,.01,0],
faintMid,faintMid,faintMid,faintMid,faintMid,faintMid,faintMid,faintMid,
faintBrown,faintBrown,faintBrown,faintBrown,faintBrown,faintBrown,faintBrown,faintBrown,faintBrown,faintBrown,faintBrown,faintBrown
];

// draw order (last on top)
const seriesList = [
  {rows: sienna, color: '#a0522d'},
  {rows: gold,   color: '#ffcc00'},
  {rows: orange, color: '#ff8a00'},
  {rows: forest, color: '#2e8b2e'},
  {rows: lime,   color: '#7be000'},
  {rows: red,    color: '#f00000'},
  {rows: violet, color: '#9b1fd8'},
  {rows: sky,    color: '#00b8f5'}
];

// ---------- layout ----------
const W = 1377, H = 926;
const colLeft = [22,177,332,487,646,801,956,1111];
const rowTop = [14,164,314,481,631,781];
const PW = 136, PH = 135;
const px = v => v / W, py = v => 1 - v / H;

const labelFont = {family: 'Liberation Sans, Arial, sans-serif', size: 18, color: '#111'};
const measureCtx = document.createElement('canvas').getContext('2d');
measureCtx.font = '18px "Liberation Sans", Arial, sans-serif';

const layout = {
  width: W, height: H, margin: {l:0, r:0, t:0, b:0},
  paper_bgcolor: '#fff', plot_bgcolor: '#fff', showlegend: false,
  annotations: [], shapes: []
};
const traces = [];
const tickFont = {family: 'DejaVu Sans', size: 6, color: '#000', weight: 'bold'};

for (let i = 0; i < 48; i++) {
  const yr = Math.floor(i / 12), m = i % 12;
  const col = (yr % 2) * 4 + (m % 4);
  const row = Math.floor(yr / 2) * 3 + Math.floor(m / 4);
  const k = i + 1;
  const xa = k === 1 ? 'x' : 'x' + k, ya = k === 1 ? 'y' : 'y' + k;
  const common = {
    showline: true, linewidth: 2, linecolor: '#000', mirror: 'allticks',
    ticks: 'inside', ticklen: 4.5, tickwidth: 1.4, tickcolor: '#000',
    showgrid: false, zeroline: false, tickfont: tickFont, fixedrange: true
  };
  layout[k === 1 ? 'xaxis' : 'xaxis' + k] = Object.assign({}, common, {
    domain: [px(colLeft[col]), px(colLeft[col] + PW)], anchor: ya,
    range: [-90, 90], tickmode: 'array', tickvals: latTicks,
    ticktext: latTicks.map(String),
    minor: {tickmode: 'linear', tick0: -90, dtick: 10, ticklen: 2.5, tickwidth: 1, tickcolor: '#000', ticks: 'inside'}
  });
  layout[k === 1 ? 'yaxis' : 'yaxis' + k] = Object.assign({}, common, {
    domain: [py(rowTop[row] + PH), py(rowTop[row])], anchor: xa,
    range: [0, yearTop[yr]], tickmode: 'linear', tick0: 0, dtick: yearStep[yr], tickformat: '.1f',
    minor: {tickmode: 'linear', tick0: 0, dtick: yr < 2 ? 0.1 : 0.05, ticklen: 2.5, tickwidth: 1, tickcolor: '#000', ticks: 'inside'}
  });

  seriesList.forEach(s => {
    const rowVals = s.rows[i];
    const xs = [], ys = [];
    latitude.forEach((l, j) => { if (rowVals[j] !== null) { xs.push(l); ys.push(rowVals[j]); } });
    if (s.rows === sky && skyEdgeLat[i] !== null) {
      const el = skyEdgeLat[i], ev = skyEdgeAOD[i];
      if (el < 0) { xs.unshift(el); ys.unshift(ev); } else { xs.push(el); ys.push(ev); }
      traces.push({x: [el, el], y: [0, ev], xaxis: xa, yaxis: ya, mode: 'lines',
        line: {color: s.color, width: 1.5}, hoverinfo: 'skip', showlegend: false});
    }
    traces.push({x: xs, y: ys, xaxis: xa, yaxis: ya, mode: 'lines',
      line: {color: s.color, width: 1.5, shape: 'spline', smoothing: 1},
      hoverinfo: 'skip', showlegend: false});
  });

  const label = months[m] + years[yr];
  const tw = Math.ceil(measureCtx.measureText(label).width);
  layout.annotations.push({
    xref: (k === 1 ? 'x' : 'x' + k) + ' domain', yref: (k === 1 ? 'y' : 'y' + k) + ' domain',
    x: 1, y: 1, xanchor: 'right', yanchor: 'top', xshift: -2, yshift: -1,
    text: label, showarrow: false, font: labelFont,
    width: tw + 12, height: 26, align: 'center', valign: 'middle',
    bgcolor: '#fff', bordercolor: '#222', borderwidth: 1, borderpad: 1
  });
}

// AOD / latitude key
layout.shapes.push(
  {type: 'line', xref: 'paper', yref: 'paper', x0: px(1273), y0: py(902), x1: px(1273), y1: py(841), line: {color: '#000', width: 1}},
  {type: 'line', xref: 'paper', yref: 'paper', x0: px(1273), y0: py(902), x1: px(1335), y1: py(902), line: {color: '#000', width: 1}},
  {type: 'path', xref: 'paper', yref: 'paper',
   path: `M ${px(1270.6)} ${py(843)} L ${px(1273)} ${py(836)} L ${px(1275.4)} ${py(843)} Z`,
   fillcolor: '#000', line: {color: '#000', width: 0.5}},
  {type: 'path', xref: 'paper', yref: 'paper',
   path: `M ${px(1334)} ${py(899.6)} L ${px(1341)} ${py(902)} L ${px(1334)} ${py(904.4)} Z`,
   fillcolor: '#000', line: {color: '#000', width: 0.5}}
);
layout.annotations.push(
  {xref: 'paper', yref: 'paper', x: px(1278), y: py(824), xanchor: 'center', yanchor: 'middle',
   text: 'AOD', showarrow: false, font: {family: 'Open Sans, sans-serif', size: 12, color: '#222'}},
  {xref: 'paper', yref: 'paper', x: px(1352), y: py(917), xanchor: 'center', yanchor: 'middle',
   text: 'latitude', showarrow: false, font: {family: 'Open Sans, sans-serif', size: 12, color: '#222'}}
);

Plotly.newPlot('chart', traces, layout, {staticPlot: true, displayModeBar: false});
</script>
</body>
</html>
